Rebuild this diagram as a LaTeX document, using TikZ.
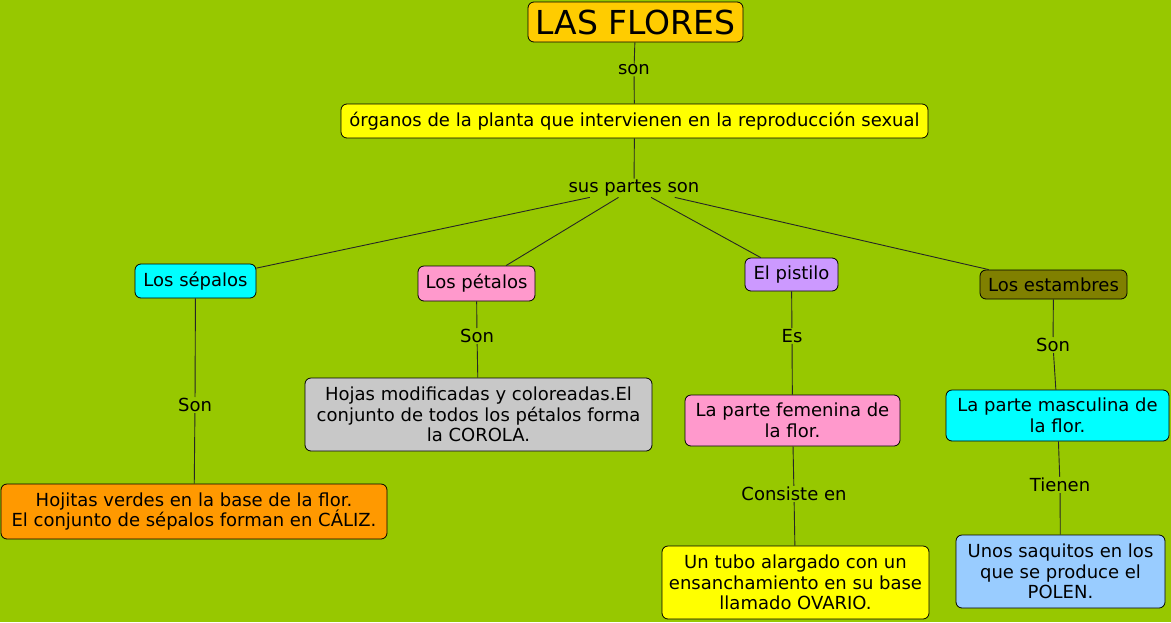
\documentclass[tikz,border=0pt]{standalone}
\usepackage{fontspec}
\setmainfont{DejaVu Sans}
\definecolor{fondo}{HTML}{97C800}
\definecolor{oro}{HTML}{FFCC00}
\definecolor{amarillo}{HTML}{FFFF00}
\definecolor{cian}{HTML}{00FFFF}
\definecolor{rosa}{HTML}{FF99CC}
\definecolor{lila}{HTML}{CC99FF}
\definecolor{oliva}{HTML}{808000}
\definecolor{naranja}{HTML}{FF9900}
\definecolor{gris}{HTML}{C8C8C8}
\definecolor{celeste}{HTML}{99CCFF}
\tikzset{
  concepto/.style={draw=black, line width=0.8pt, rounded corners=6pt, align=center,
    inner sep=2pt, font=\fontsize{18}{20.5}\selectfont},
  enlace/.style={inner sep=1pt, font=\fontsize{18}{20.5}\selectfont},
  linea/.style={draw=black!85, line width=0.9pt}
}
\begin{document}
\begin{tikzpicture}[x=1pt,y=-1pt]
\fill[fondo] (0,0) rectangle (1171,622);
\useasboundingbox (0,0) rectangle (1171,622);
\node[concepto, fill=oro, minimum width=215, minimum height=40, font=\fontsize{33}{36}\selectfont] (flores) at (635.5,22) {LAS FLORES};
\node[concepto, fill=amarillo, minimum width=587, minimum height=34] (organos) at (634.5,121) {órganos de la planta que intervienen en la reproducción sexual};
\node[concepto, fill=cian, minimum width=121, minimum height=34] (sepalos) at (195.5,281) {Los sépalos};
\node[concepto, fill=rosa, minimum width=117, minimum height=35] (petalos) at (476.5,283.5) {Los pétalos};
\node[concepto, fill=lila, minimum width=93, minimum height=33] (pistilo) at (791.5,274.5) {El pistilo};
\node[concepto, fill=oliva, minimum width=147, minimum height=29] (estambres) at (1053.5,284.5) {Los estambres};
\node[concepto, fill=naranja, minimum width=386, minimum height=55] (caliz) at (194,511.5) {Hojitas verdes en la base de la flor.\\El conjunto de sépalos forman en CÁLIZ.};
\node[concepto, fill=gris, minimum width=347, minimum height=73] (corola) at (478.5,414.5) {Hojas modificadas y coloreadas.El\\conjunto de todos los pétalos forma\\la COROLA.};
\node[concepto, fill=rosa, minimum width=215, minimum height=51] (femenina) at (792.5,420.5) {La parte femenina de\\la flor.};
\node[concepto, fill=amarillo, minimum width=267, minimum height=73] (ovario) at (795.5,582.5) {Un tubo alargado con un\\ensanchamiento en su base\\llamado OVARIO.};
\node[concepto, fill=cian, minimum width=223, minimum height=51] (masculina) at (1057.5,415.5) {La parte masculina de\\la flor.};
\node[concepto, fill=celeste, minimum width=209, minimum height=73] (polen) at (1060.5,571.5) {Unos saquitos en los\\que se produce el\\POLEN.};
% enlaces
\node[enlace] (son) at (634,70) {son};
\node[enlace] (partes) at (634,188) {sus partes son};
\node[enlace] (sonsep) at (195,405) {Son};
\node[enlace] (sonpet) at (477,336) {Son};
\node[enlace] (es) at (792,336) {Es};
\node[enlace] (consiste) at (794,494) {Consiste en};
\node[enlace] (sonest) at (1053,345) {Son};
\node[enlace] (tienen) at (1060,485) {Tienen};
\draw[linea] (flores) -- (son) -- (organos);
\draw[linea] (organos) -- (partes);
\draw[linea] (partes) -- (sepalos);
\draw[linea] (partes) -- (petalos);
\draw[linea] (partes) -- (pistilo);
\draw[linea] (partes) -- (estambres);
\draw[linea] (sepalos) -- (sonsep) -- (caliz);
\draw[linea] (petalos) -- (sonpet) -- (corola);
\draw[linea] (pistilo) -- (es) -- (femenina);
\draw[linea] (femenina) -- (consiste) -- (ovario);
\draw[linea] (estambres) -- (sonest) -- (masculina);
\draw[linea] (masculina) -- (tienen) -- (polen);
\end{tikzpicture}
\end{document}
